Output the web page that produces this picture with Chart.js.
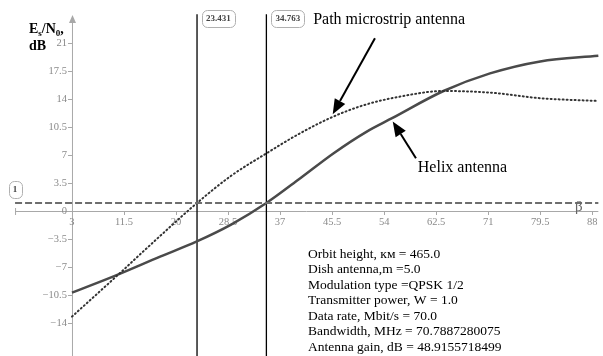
<!DOCTYPE html>
<html lang="en">
<head>
<meta charset="utf-8"/>
<title>Es/N0 vs elevation</title>
<script src="https://cdn.jsdelivr.net/npm/chart.js"></script>
<style>
  body { margin: 0; background: #fff; }
  canvas { display: block; }
</style>
</head>
<body>
<canvas id="chart" width="603" height="356"></canvas>
<script>
// tick labels
const xTicks = [3, 11.5, 20, 28.5, 37, 45.5, 54, 62.5, 71, 79.5, 88];
const yTicks = [-14, -10.5, -7, -3.5, 0, 3.5, 7, 10.5, 14, 17.5, 21];

// Helix antenna (solid)
const helixX = [3, 10, 17.4, 23.4, 29, 34.76, 40.3, 45.7, 51.1, 55.3, 63.7, 71.3, 79.5, 89];
const helixY = [-10.2, -8.1, -5.7, -3.8, -1.7, 1.0, 4.1, 7.2, 9.9, 11.6, 15.0, 17.2, 18.7, 19.4];

// Path microstrip antenna (dotted)
const patchX = [3, 10.35, 17, 23.43, 29, 34.76, 40, 45.7, 51, 56.6, 63.7, 71.3, 79.5, 89];
const patchY = [-13.2, -8.1, -3.4, 1.0, 4.4, 7.2, 9.6, 11.8, 13.3, 14.3, 15.0, 14.8, 14.1, 13.75];

const markers = [23.431, 34.763];
const threshold = 1;

const infoLines = [
  "Orbit height, км = 465.0",
  "Dish antenna,m =5.0",
  "Modulation type =QPSK 1/2",
  "Transmitter power, W = 1.0",
  "Data rate, Mbit/s = 70.0",
  "Bandwidth, MHz = 70.7887280075",
  "Antenna gain, dB = 48.9155718499"
];

const xAxisFrom = -6.3, xAxisTo = 89, yAxisAt = 3;
const yTop = 24.5;

const pts = (xs, ys) => xs.map((x, i) => ({ x: x, y: ys[i] }));

const serif = '"Liberation Serif", "Times New Roman", serif';

const axesPlugin = {
  id: 'axes',
  beforeDatasetsDraw(chart) {
    const c = chart.ctx, xs = chart.scales.x, ys = chart.scales.y;
    const y0 = ys.getPixelForValue(0), xa = xs.getPixelForValue(yAxisAt);
    c.save();
    c.strokeStyle = '#a8a8a8';
    c.lineWidth = 1;
    c.beginPath();
    c.moveTo(xs.getPixelForValue(xAxisFrom), y0 + 0.5);
    c.lineTo(xs.getPixelForValue(xAxisTo), y0 + 0.5);
    c.moveTo(xa + 0.5, chart.height);
    c.lineTo(xa + 0.5, ys.getPixelForValue(yTop) + 4);
    // end tick
    c.moveTo(xs.getPixelForValue(xAxisFrom) + 0.5, y0 - 3);
    c.lineTo(xs.getPixelForValue(xAxisFrom) + 0.5, y0 + 4);
    c.stroke();
    // arrow on y axis
    const ty = ys.getPixelForValue(yTop);
    c.fillStyle = '#a8a8a8';
    c.beginPath();
    c.moveTo(xa + 0.5, ty);
    c.lineTo(xa - 3, ty + 8);
    c.lineTo(xa + 4, ty + 8);
    c.closePath();
    c.fill();

    c.font = '10.5px ' + serif;
    c.fillStyle = '#8a8a8a';
    c.textAlign = 'center';
    c.textBaseline = 'top';
    xTicks.forEach(v => {
      const px = xs.getPixelForValue(v);
      c.beginPath();
      c.moveTo(Math.round(px) + 0.5, y0);
      c.lineTo(Math.round(px) + 0.5, y0 + 4);
      c.stroke();
      c.fillText(String(v), px, y0 + 6);
    });
    c.textAlign = 'right';
    c.textBaseline = 'middle';
    yTicks.forEach(v => {
      const py = ys.getPixelForValue(v);
      c.beginPath();
      c.moveTo(xa - 4, Math.round(py) + 0.5);
      c.lineTo(xa, Math.round(py) + 0.5);
      c.stroke();
      c.fillText(String(v).replace('-', '\u2212'), xa - 5, py);
    });
    c.restore();
  },
  afterDraw(chart) {
    const c = chart.ctx, xs = chart.scales.x, ys = chart.scales.y;
    c.save();

    // boxed labels
    const box = (text, cx, cy) => {
      c.font = 'bold 9px ' + serif;
      const w = c.measureText(text).width + 8, h = 17;
      c.fillStyle = '#fff';
      c.strokeStyle = '#b0b0b0';
      c.lineWidth = 1;
      c.beginPath();
      c.roundRect(Math.round(cx - w / 2) + 0.5, Math.round(cy - h / 2) + 0.5, Math.round(w), h, 5);
      c.fill();
      c.stroke();
      c.fillStyle = '#444';
      c.textAlign = 'center';
      c.textBaseline = 'middle';
      c.fillText(text, cx, cy + 0.5);
    };
    markers.forEach(m => {
      c.font = 'bold 9px ' + serif;
      const w = c.measureText(m.toFixed(3)).width + 8;
      box(m.toFixed(3), xs.getPixelForValue(m) + 5 + w / 2, 18);
    });
    box(String(threshold), xs.getPixelForValue(xAxisFrom), ys.getPixelForValue(threshold) - 14);

    // y axis title
    c.fillStyle = '#000';
    c.textAlign = 'left';
    c.textBaseline = 'alphabetic';
    let x = 29;
    const part = (t, font, dy) => {
      c.font = font;
      c.fillText(t, x, 33 + dy);
      x += c.measureText(t).width;
    };
    part('E', 'bold 14px ' + serif, 0);
    part('s', 'bold 9px ' + serif, 3);
    part('/N', 'bold 14px ' + serif, 0);
    part('0', 'bold 9px ' + serif, 3);
    part(',', 'bold 14px ' + serif, 0);
    c.font = 'bold 14px ' + serif;
    c.fillText('dB', 29, 50);

    // beta
    c.font = '15px ' + serif;
    c.fillStyle = '#666';
    c.fillText('\u03b2', xs.getPixelForValue(85.2), ys.getPixelForValue(0));

    // curve labels and arrows
    c.fillStyle = '#000';
    c.font = '16px ' + serif;
    c.textBaseline = 'middle';
    c.fillText('Path microstrip antenna', xs.getPixelForValue(42.4), ys.getPixelForValue(23.9));
    c.fillText('Helix antenna', xs.getPixelForValue(59.5), ys.getPixelForValue(5.4));

    const arrow = (fx, fy, tx, ty) => {
      const x1 = xs.getPixelForValue(fx), y1 = ys.getPixelForValue(fy);
      const x2 = xs.getPixelForValue(tx), y2 = ys.getPixelForValue(ty);
      const a = Math.atan2(y2 - y1, x2 - x1), L = 15, W = 6;
      const bx = x2 - L * Math.cos(a), by = y2 - L * Math.sin(a);
      c.strokeStyle = '#000';
      c.lineWidth = 2;
      c.beginPath();
      c.moveTo(x1, y1);
      c.lineTo(bx, by);
      c.stroke();
      c.beginPath();
      c.moveTo(x2, y2);
      c.lineTo(bx + W * Math.sin(a), by - W * Math.cos(a));
      c.lineTo(bx - W * Math.sin(a), by + W * Math.cos(a));
      c.closePath();
      c.fill();
    };
    arrow(52.5, 21.6, 45.6, 12.1);
    arrow(59.2, 6.6, 55.4, 11.2);

    // parameters text
    c.font = '13.5px ' + serif;
    c.textBaseline = 'middle';
    infoLines.forEach((t, i) => c.fillText(t, 308, 254 + i * 15.5));
    c.restore();
  }
};

const chart = new Chart(document.getElementById('chart').getContext('2d'), {
  type: 'line',
  data: {
    datasets: [
      {
        label: 'threshold',
        data: [{ x: xAxisFrom, y: threshold }, { x: xAxisTo, y: threshold }],
        borderColor: '#6e6e6e',
        borderWidth: 2,
        borderDash: [7, 3],
        pointRadius: 0
      },
      {
        label: 'Path microstrip antenna',
        data: pts(patchX, patchY),
        borderColor: '#333',
        borderWidth: 2,
        borderDash: [1, 3],
        borderCapStyle: 'round',
        pointRadius: 0,
        cubicInterpolationMode: 'monotone'
      },
      {
        label: 'Helix antenna',
        data: pts(helixX, helixY),
        borderColor: '#4a4a4a',
        borderWidth: 2.5,
        pointRadius: 0,
        cubicInterpolationMode: 'monotone'
      },
      ...markers.map(m => ({
        label: String(m),
        data: [{ x: m, y: -19 }, { x: m, y: 24.6 }],
        borderColor: '#000',
        borderWidth: 1.3,
        pointRadius: 0
      }))
    ]
  },
  options: {
    responsive: false,
    animation: false,
    layout: { padding: 0 },
    plugins: { legend: { display: false }, tooltip: { enabled: false } },
    scales: {
      x: { type: 'linear', min: -8.76, max: 89.76, display: false },
      y: { type: 'linear', min: -18.125, max: 26.375, display: false }
    }
  },
  plugins: [axesPlugin]
});
</script>
</body>
</html>
